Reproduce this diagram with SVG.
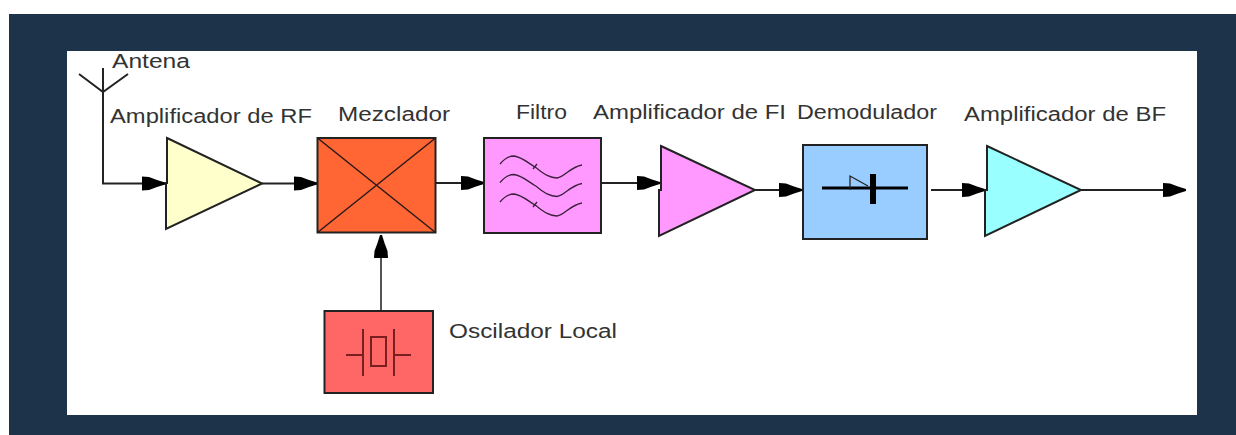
<svg xmlns="http://www.w3.org/2000/svg" width="1236" height="435" viewBox="0 0 1236 435">
<defs>
<marker id="head" markerUnits="userSpaceOnUse" markerWidth="24" markerHeight="16" viewBox="0 0 24 16" refX="23" refY="8" orient="auto">
<path d="M0,1 L7,1.500 L15,4.500 L23,7 V9 L15,11.500 L7,14.500 L0,15 Z" fill="#000"/>
</marker>
<path id="wave" d="M500,164 C505,158 510,156 514,156 C522,157 528,163 535,167 C542,172 548,178 557,178 C565,177 570,167 582,165"/>
</defs>
<style>
.lbl{font-family:"Liberation Sans",Arial,sans-serif;font-size:20px;fill:#333}
.box{stroke:#222;stroke-width:2}
.wire{fill:none;stroke:#222;stroke-width:2}
.thin{fill:none;stroke:#2a1a1a;stroke-width:1.500}
.wave{fill:none;stroke:#3a203a;stroke-width:1.300}
.osc{fill:none;stroke:#7a1f1f;stroke-width:2}
</style>
<rect x="9" y="14" width="1227" height="421" fill="#1c3349"/>
<rect x="67" y="51" width="1130" height="364" fill="#fff"/>
<g id="connectors">
<path class="wire" d="M103,92 V183.500 H165" marker-end="url(#head)"/>
<path class="wire" d="M262,183.500 H317" marker-end="url(#head)"/>
<path class="wire" d="M435,183 H484" marker-end="url(#head)"/>
<path class="wire" d="M601,183 H660" marker-end="url(#head)"/>
<path class="wire" d="M755,190 H802" marker-end="url(#head)"/>
<path class="wire" d="M931,190 H985" marker-end="url(#head)"/>
<path class="wire" d="M1081,190 H1186" marker-end="url(#head)"/>
<path class="wire" style="stroke:#555" d="M381,311 V235" marker-end="url(#head)"/>
</g>
<g id="antena">
<path class="wire" d="M103,68 V92 M79,74 L103,92 L128,74"/>
<text class="lbl" x="112" y="68" textLength="78" lengthAdjust="spacingAndGlyphs">Antena</text>
</g>
<g id="amp-rf">
<path class="box" fill="#ffffcc" d="M167,138 L262,183.500 L166,229 V183 H167 Z"/>
<text class="lbl" x="110" y="122.500" textLength="202" lengthAdjust="spacingAndGlyphs">Amplificador de RF</text>
</g>
<g id="mezclador">
<rect class="box" x="317.500" y="138" width="118" height="94.500" fill="#ff6633"/>
<path class="thin" d="M317.500,138 L435.500,232.500 M435.500,138 L317.500,232.500"/>
<text class="lbl" x="338" y="120.500" textLength="112" lengthAdjust="spacingAndGlyphs">Mezclador</text>
</g>
<g id="filtro">
<rect class="box" x="484" y="138" width="117" height="95" fill="#ff99ff"/>
<g class="wave">
<use href="#wave"/>
<use href="#wave" y="18.500"/>
<use href="#wave" y="38"/>
<path d="M533,169 L537,164 M533,207 L537,202"/>
</g>
<text class="lbl" x="516" y="119" textLength="51" lengthAdjust="spacingAndGlyphs">Filtro</text>
</g>
<g id="amp-fi">
<path class="box" fill="#ff99ff" d="M661,146 L755,190 L659,236 V190 H661 Z"/>
<text class="lbl" x="593" y="119" textLength="193" lengthAdjust="spacingAndGlyphs">Amplificador de FI</text>
</g>
<g id="demodulador">
<rect class="box" x="803" y="145" width="124" height="94" fill="#99ccff"/>
<path d="M822,188 H908" stroke="#000" stroke-width="3" fill="none"/>
<path d="M873,174 V204" stroke="#000" stroke-width="6" fill="none"/>
<path d="M850,190 V176 L868,186" stroke="#222" stroke-width="1.300" fill="none"/>
<text class="lbl" x="797" y="119" textLength="140" lengthAdjust="spacingAndGlyphs">Demodulador</text>
</g>
<g id="amp-bf">
<path class="box" fill="#99ffff" d="M987,146 L1081,190 L985,236 V190 H987 Z"/>
<text class="lbl" x="964" y="121" textLength="202" lengthAdjust="spacingAndGlyphs">Amplificador de BF</text>
</g>
<g id="oscilador">
<rect class="box" x="324.500" y="311" width="108.500" height="82" fill="#ff6666"/>
<path class="osc" d="M346,355 H363 M363,329 V376 M371,337 H386 V366 H371 Z M394,329 V376 M394,355 H411"/>
<text class="lbl" x="449" y="337.500" textLength="168" lengthAdjust="spacingAndGlyphs">Oscilador Local</text>
</g>
</svg>
